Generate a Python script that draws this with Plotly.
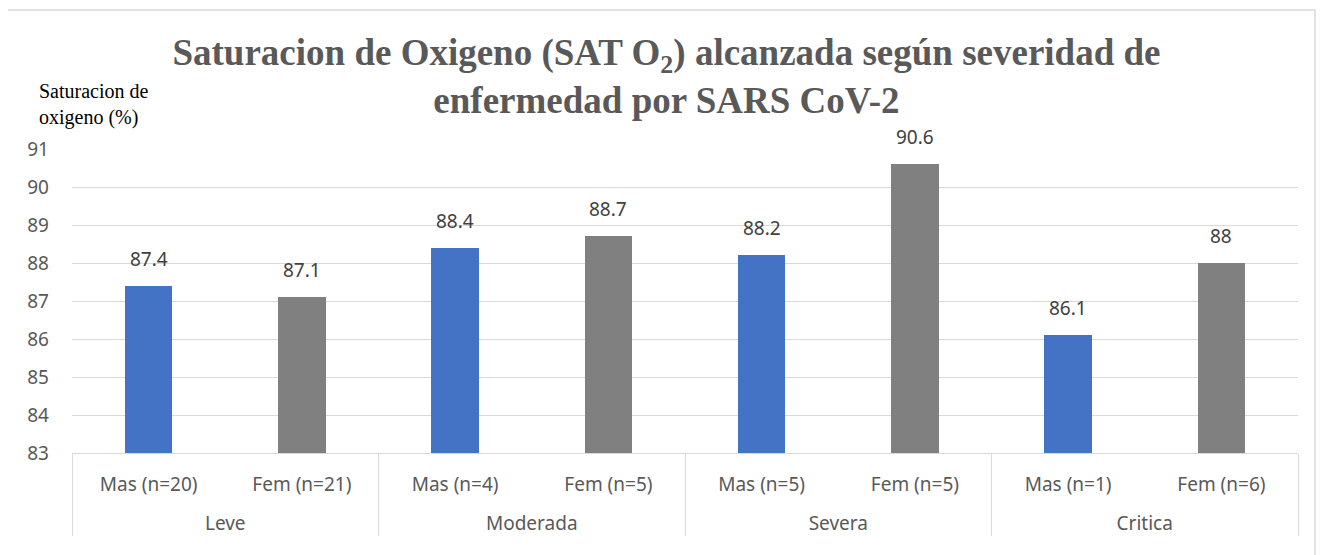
import plotly.graph_objects as go

severidad = ["Leve", "Moderada", "Severa", "Critica"]
mas_labels = ["Mas (n=20)", "Mas (n=4)", "Mas (n=5)", "Mas (n=1)"]
fem_labels = ["Fem (n=21)", "Fem\u00a0(n=5)", "Fem (n=5)", "Fem (n=6)"]
mas_values = [87.4, 88.4, 88.2, 86.1]
fem_values = [87.1, 88.7, 90.6, 88.0]
y_ticks = [83, 84, 85, 86, 87, 88, 89, 90, 91]

W, H = 1330, 555
OFF = 8  # page offset of the figure in the browser
SL, SR, ST, SB = 72, 1298, 149, 453
L, T = SL - OFF, ST - OFF
R = W - (SR - OFF)
B = H - (SB - OFF)
pw, ph = W - L - R, H - T - B

def px(xs):
    return (xs - OFF - L) / pw

def py(ys):
    return (H - B - (ys - OFF)) / ph

def fmt(v):
    return "%g" % v

x0, x1, vals, cols = [], [], [], []
for i, s in enumerate(severidad):
    x0 += ["<br>" + s, "<br>" + s]
    x1 += [mas_labels[i], fem_labels[i]]
    vals += [mas_values[i], fem_values[i]]
    cols += ["#4472C4", "#808080"]

fig = go.Figure()
fig.add_trace(go.Bar(
    x=[x0, x1], y=vals, marker=dict(color=cols, line=dict(width=0)),
    width=0.31, showlegend=False, hoverinfo="y",
))

for i, v in enumerate(vals):
    fig.add_annotation(
        x=i, y=v, text=fmt(v), showarrow=False, yanchor="bottom",
        yshift=12, font=dict(family="Noto Sans", size=19, color="#404040"),
    )

fig.update_layout(
    width=W, height=H,
    margin=dict(l=L, r=R, t=T, b=B, autoexpand=False),
    paper_bgcolor="white", plot_bgcolor="white",
    bargap=0,
    font=dict(family="Noto Sans", size=19, color="#595959"),
    yaxis=dict(range=[83, 91], tickvals=y_ticks, showgrid=True,
               gridcolor="#D9D9D9", gridwidth=1, zeroline=False,
               showline=False, ticks="", ticklabelstandoff=22,
               tickfont=dict(family="Noto Sans", size=19, color="#595959")),
    xaxis=dict(type="multicategory", showline=True, linecolor="#D9D9D9",
               linewidth=1, showdividers=True, dividercolor="#D9D9D9",
               dividerwidth=1, ticks="", showgrid=False,
               ticklabelstandoff=14,
               tickfont=dict(family="Noto Sans", size=19, color="#595959")),
    title=dict(
        text="<b>Saturacion de Oxigeno (SAT O<sub>2</sub>) alcanzada según severidad de<br>enfermedad por SARS CoV-2</b>",
        x=px(679), xanchor="center", y=1 - (65 - OFF) / H, yanchor="top",
        font=dict(family="Liberation Serif", size=37, color="#595959"),
    ),
)

fig.add_annotation(
    text="Saturacion de<br>oxigeno (%)", xref="paper", yref="paper",
    x=px(37), y=py(78), xanchor="left", yanchor="top", align="left",
    showarrow=False, font=dict(family="Liberation Serif", size=20, color="black"),
)

fig.add_shape(type="rect", xref="paper", yref="paper",
              x0=px(7), x1=px(1315), y0=py(620), y1=py(10),
              line=dict(color="#D9D9D9", width=1.5), fillcolor="rgba(0,0,0,0)",
              layer="below")

fig.write_html("out.html")
